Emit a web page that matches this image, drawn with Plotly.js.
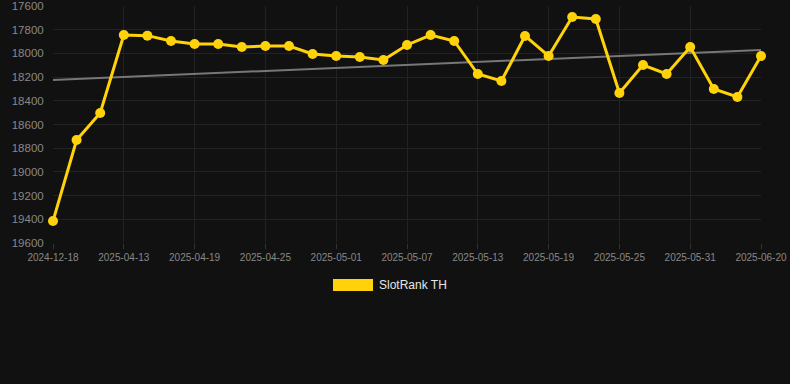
<!DOCTYPE html>
<html>
<head>
<meta charset="utf-8">
<script src="https://cdn.plot.ly/plotly-3.0.1.min.js"></script>
<style>html,body{margin:0;padding:0;background:#111111;}#chart{width:790px;height:384px;}</style>
</head>
<body>
<div id="chart"></div>
<script>
const dates = ["2024-12-18","2025-04-09","2025-04-11","2025-04-13","2025-04-15","2025-04-17","2025-04-19","2025-04-21","2025-04-23","2025-04-25","2025-04-27","2025-04-29","2025-05-01","2025-05-03","2025-05-05","2025-05-07","2025-05-09","2025-05-11","2025-05-13","2025-05-15","2025-05-17","2025-05-19","2025-05-21","2025-05-23","2025-05-25","2025-05-27","2025-05-29","2025-05-31","2025-06-02","2025-06-04","2025-06-20"];
const ranks = [19415,18731,18503,17845,17850,17895,17921,17921,17946,17938,17938,18005,18022,18030,18056,17929,17845,17895,18174,18233,17853,18022,17693,17710,18334,18098,18174,17946,18300,18368,18022];
const trendValues = [18224,17971];
const tickLabels = ["2024-12-18","2025-04-13","2025-04-19","2025-04-25","2025-05-01","2025-05-07","2025-05-13","2025-05-19","2025-05-25","2025-05-31","2025-06-20"];
const seriesName = "SlotRank TH";

const traces = [
  {
    x: [dates[0], dates[dates.length-1]],
    y: trendValues,
    type: 'scatter', mode: 'lines',
    line: {color: '#777777', width: 2},
    cliponaxis: false,
    hoverinfo: 'skip', showlegend: false
  },
  {
    x: dates, y: ranks,
    type: 'scatter', mode: 'lines+markers',
    name: seriesName,
    line: {color: '#FFD20A', width: 3},
    marker: {color: '#FFD20A', size: 10},
    cliponaxis: false,
    showlegend: false
  }
];

const layout = {
  width: 790, height: 384,
  paper_bgcolor: '#111111', plot_bgcolor: '#111111',
  margin: {l: 53, r: 29, t: 6, b: 141},
  showlegend: false,
  font: {family: 'Arial, Liberation Sans, sans-serif', color: '#888888'},
  xaxis: {
    type: 'category',
    categoryorder: 'array', categoryarray: dates,
    range: [0, dates.length-1],
    tickmode: 'array', tickvals: tickLabels, ticktext: tickLabels,
    showgrid: true, gridcolor: '#222222', gridwidth: 1,
    zeroline: false, showline: false,
    ticks: 'outside', ticklen: 5, tickcolor: '#333333',
    tickfont: {size: 10, color: '#888888'}
  },
  yaxis: {
    range: [19600, 17600],
    tickvals: [17600,17800,18000,18200,18400,18600,18800,19000,19200,19400,19600],
    tickformat: 'd',
    showgrid: true, gridcolor: '#222222', gridwidth: 1,
    zeroline: false, showline: false,
    ticks: 'outside', ticklen: 6, tickcolor: 'rgba(0,0,0,0)',
    tickfont: {size: 11.5, color: '#888888'}
  },
  shapes: [
    {type: 'rect', xref: 'paper', yref: 'paper',
     x0: (333-53)/708, x1: (373-53)/708, y0: (384-141-291)/237, y1: (384-141-279)/237,
     fillcolor: '#FFD20A', line: {width: 0}}
  ],
  annotations: [
    {xref: 'paper', yref: 'paper', x: (377-53)/708, y: (384-141-285)/237,
     xanchor: 'left', yanchor: 'middle', showarrow: false,
     text: seriesName, font: {size: 12, color: '#e6e6e6'}}
  ]
};

Plotly.newPlot('chart', traces, layout, {displayModeBar: false, staticPlot: true});
</script>
</body>
</html>
